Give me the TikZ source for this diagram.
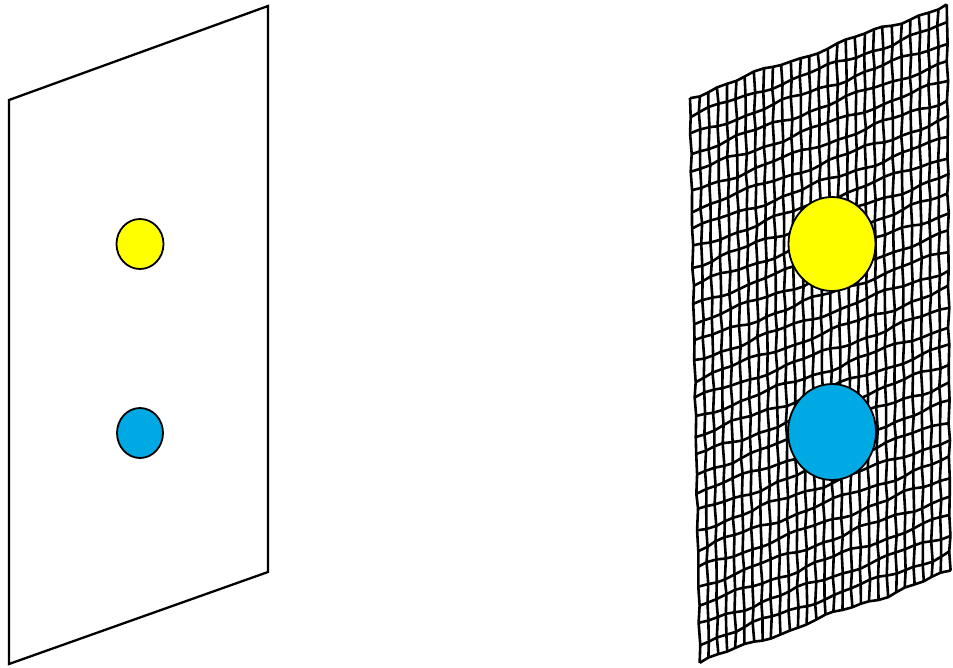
\documentclass[tikz,border=0pt]{standalone}
\usetikzlibrary{shapes.geometric}
\definecolor{dotyellow}{RGB}{255,255,0}
\definecolor{dotblue}{RGB}{0,168,228}
\tikzset{
  panel/.style={line width=2.3pt, line join=miter},
  meshline/.style={line width=2.6pt, line join=round},
  dot/.style={ellipse, draw=black, line width=1.8pt, inner sep=0pt},
  declare function={
    uu(\i)=\i/28; vv(\j)=\j/30;
    gx(\i,\j)=(1-uu(\i))*(1-vv(\j))*690+uu(\i)*(1-vv(\j))*947+(1-uu(\i))*vv(\j)*700+uu(\i)*vv(\j)*950+0.7*sin(\i*97.3+\j*151.1);
    gy(\i,\j)=(1-uu(\i))*(1-vv(\j))*97+uu(\i)*(1-vv(\j))*5+(1-uu(\i))*vv(\j)*662+uu(\i)*vv(\j)*572+1.8*sin(\i*31.7+\j*123.9+40)+1.0*sin(\i*83.1+\j*77.7);
  }
}
\begin{document}
\begin{tikzpicture}[x=1pt,y=-1pt]
\useasboundingbox (0,0) rectangle (953,667);
% left plain sheet
\coordinate (LTL) at (9,100);
\coordinate (LTR) at (268,6);
\coordinate (LBR) at (268,572);
\coordinate (LBL) at (9,664);
\draw[panel] (LTL) -- (LTR) -- (LBR) -- (LBL) -- cycle;
\node[dot, fill=dotyellow, minimum width=47pt, minimum height=50pt] (ly) at (140,244) {};
\node[dot, fill=dotblue, minimum width=46pt, minimum height=50pt] (lb) at (140,433) {};
% right mesh sheet
\foreach \i in {0,...,28} {
  \draw[meshline] plot[samples at={0,...,30}, variable=\j] ({gx(\i,\j)},{gy(\i,\j)});
}
\foreach \j in {0,...,30} {
  \draw[meshline] plot[samples at={0,...,28}, variable=\i] ({gx(\i,\j)},{gy(\i,\j)});
}
\node[dot, fill=dotyellow, minimum width=87pt, minimum height=94pt] (ry) at (832,244) {};
\node[dot, fill=dotblue, minimum width=88pt, minimum height=96pt] (rb) at (832,432) {};
\end{tikzpicture}
\end{document}
